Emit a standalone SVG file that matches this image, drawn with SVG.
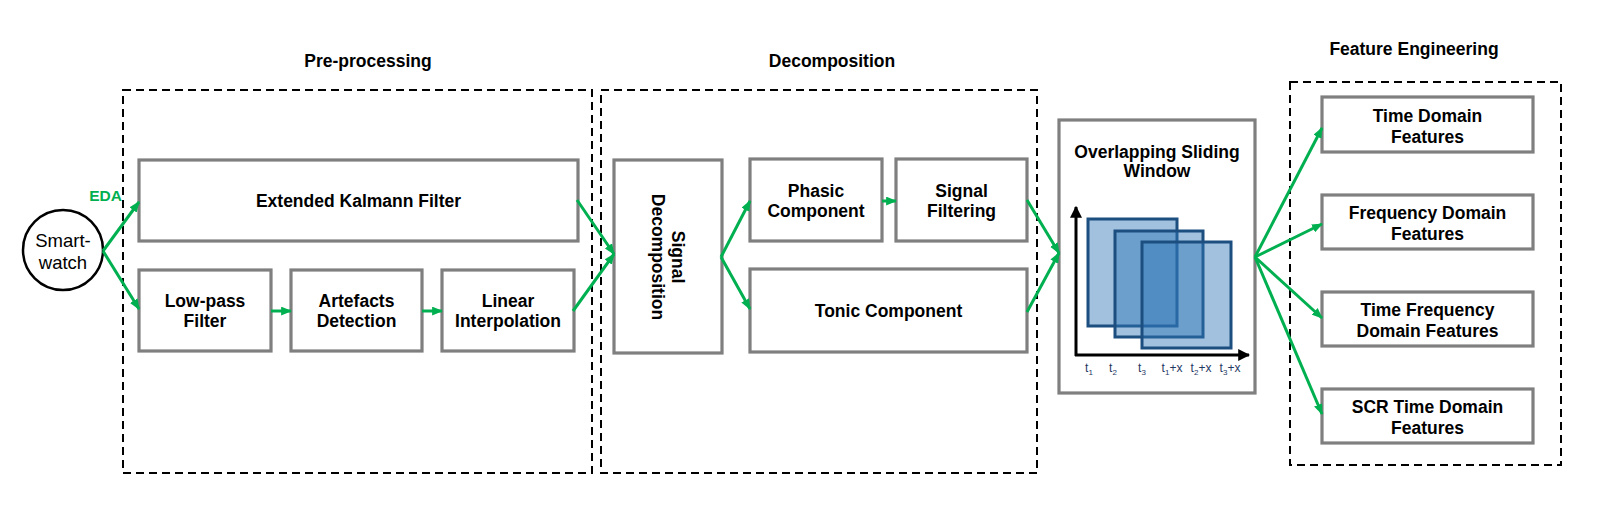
<svg xmlns="http://www.w3.org/2000/svg" width="1623" height="521" viewBox="0 0 1623 521">
<defs>
<style>
.box{fill:#fff;stroke:#7f7f7f;stroke-width:3.2}
.dash{fill:none;stroke:#000;stroke-width:2;stroke-dasharray:8,5}
.t{font-family:"Liberation Sans",Arial,sans-serif;font-weight:bold;font-size:17.5px;fill:#000;text-anchor:middle}
.conn line{stroke:#00b050;stroke-width:3;marker-end:url(#ah)}
.ax{font-family:"Liberation Sans",Arial,sans-serif;font-size:12px;fill:#1f3864;text-anchor:middle}
.sq{fill:#2e75b6;fill-opacity:0.45;stroke:#1c4f80;stroke-width:3}
</style>
<marker id="ah" viewBox="0 0 10 8" refX="9" refY="4" markerWidth="11" markerHeight="9" orient="auto" markerUnits="userSpaceOnUse">
<path d="M0,0 L10,4 L0,8 z" fill="#00b050"/>
</marker>
<marker id="bk" viewBox="0 0 10 10" refX="9" refY="5" markerWidth="12" markerHeight="12" orient="auto" markerUnits="userSpaceOnUse">
<path d="M0,0 L10,5 L0,10 z" fill="#000"/>
</marker>
</defs>
<rect width="1623" height="521" fill="#fff"/>

<g id="stage-titles">
<text class="t" x="368" y="67">Pre-processing</text>
<text class="t" x="832" y="67">Decomposition</text>
<text class="t" x="1414" y="55">Feature Engineering</text>
</g>

<g id="stage-boxes">
<rect class="dash" x="123" y="90" width="469" height="383"/>
<rect class="dash" x="601" y="90" width="436" height="383"/>
<rect class="dash" x="1290" y="82" width="271" height="383"/>
</g>

<g id="smartwatch">
<circle cx="63" cy="250" r="40" fill="#fff" stroke="#000" stroke-width="2.5"/>
<text x="63" y="247" font-family="Liberation Sans, Arial, sans-serif" font-size="18.5" text-anchor="middle">Smart-</text>
<text x="63" y="269" font-family="Liberation Sans, Arial, sans-serif" font-size="18.5" text-anchor="middle">watch</text>
</g>
<text id="eda-label" x="105.5" y="201" font-family="Liberation Sans, Arial, sans-serif" font-weight="bold" font-size="15.5" fill="#00b050" text-anchor="middle">EDA</text>

<g id="ekf">
<rect class="box" x="139" y="160" width="439" height="81"/>
<text class="t" x="358.5" y="207">Extended Kalmann Filter</text>
</g>
<g id="lowpass">
<rect class="box" x="139" y="270" width="132" height="81"/>
<text class="t" x="205" y="307">Low-pass</text>
<text class="t" x="205" y="327">Filter</text>
</g>
<g id="artefacts">
<rect class="box" x="291" y="270" width="131" height="81"/>
<text class="t" x="356.5" y="307">Artefacts</text>
<text class="t" x="356.5" y="327">Detection</text>
</g>
<g id="interp">
<rect class="box" x="442" y="270" width="132" height="81"/>
<text class="t" x="508" y="307">Linear</text>
<text class="t" x="508" y="327">Interpolation</text>
</g>

<g id="signal-decomposition">
<rect class="box" x="614" y="160" width="108" height="193"/>
<g transform="translate(668,257) rotate(90)">
<text class="t" x="0" y="-4">Signal</text>
<text class="t" x="0" y="16">Decomposition</text>
</g>
</g>
<g id="phasic">
<rect class="box" x="750" y="159" width="132" height="82"/>
<text class="t" x="816" y="197">Phasic</text>
<text class="t" x="816" y="217">Component</text>
</g>
<g id="filtering">
<rect class="box" x="896" y="159" width="131" height="82"/>
<text class="t" x="961.5" y="197">Signal</text>
<text class="t" x="961.5" y="217">Filtering</text>
</g>
<g id="tonic">
<rect class="box" x="750" y="269" width="277" height="83"/>
<text class="t" x="888.5" y="317">Tonic Component</text>
</g>

<g id="sliding-window">
<rect class="box" x="1059" y="120" width="196" height="273"/>
<text class="t" x="1157" y="158">Overlapping Sliding</text>
<text class="t" x="1157" y="177">Window</text>
<rect class="sq" x="1088" y="219" width="89" height="107"/>
<rect class="sq" x="1115" y="231" width="88" height="106"/>
<rect class="sq" x="1142" y="242" width="89" height="106"/>
<line x1="1076" y1="356" x2="1076" y2="207" stroke="#000" stroke-width="3" marker-end="url(#bk)"/>
<line x1="1075" y1="355" x2="1249" y2="355" stroke="#000" stroke-width="3" marker-end="url(#bk)"/>
<text class="ax" x="1089" y="372">t<tspan font-size="8" dy="3">1</tspan></text>
<text class="ax" x="1113" y="372">t<tspan font-size="8" dy="3">2</tspan></text>
<text class="ax" x="1142" y="372">t<tspan font-size="8" dy="3">3</tspan></text>
<text class="ax" x="1172" y="372">t<tspan font-size="8" dy="3">1</tspan><tspan dy="-3">+x</tspan></text>
<text class="ax" x="1201" y="372">t<tspan font-size="8" dy="3">2</tspan><tspan dy="-3">+x</tspan></text>
<text class="ax" x="1230" y="372">t<tspan font-size="8" dy="3">3</tspan><tspan dy="-3">+x</tspan></text>
</g>

<g id="feat-time">
<rect class="box" x="1322" y="97" width="211" height="55"/>
<text class="t" x="1427.5" y="121.5">Time Domain</text>
<text class="t" x="1427.5" y="142.5">Features</text>
</g>
<g id="feat-freq">
<rect class="box" x="1322" y="195" width="211" height="54"/>
<text class="t" x="1427.5" y="218.5">Frequency Domain</text>
<text class="t" x="1427.5" y="239.5">Features</text>
</g>
<g id="feat-tf">
<rect class="box" x="1322" y="292" width="211" height="54"/>
<text class="t" x="1427.5" y="315.5">Time Frequency</text>
<text class="t" x="1427.5" y="336.5">Domain Features</text>
</g>
<g id="feat-scr">
<rect class="box" x="1322" y="389" width="211" height="54"/>
<text class="t" x="1427.5" y="412.5">SCR Time Domain</text>
<text class="t" x="1427.5" y="433.5">Features</text>
</g>

<g id="connectors" class="conn">
<line x1="103" y1="251" x2="139" y2="202"/>
<line x1="103" y1="251" x2="139" y2="309"/>
<line x1="271" y1="311" x2="291" y2="311"/>
<line x1="422" y1="311" x2="442" y2="311"/>
<line x1="577" y1="200" x2="614" y2="254"/>
<line x1="573" y1="311" x2="614" y2="254"/>
<line x1="721" y1="257" x2="750" y2="201"/>
<line x1="721" y1="257" x2="750" y2="309"/>
<line x1="882" y1="201" x2="896" y2="201"/>
<line x1="1027" y1="200" x2="1059" y2="253"/>
<line x1="1027" y1="312" x2="1059" y2="253"/>
<line x1="1255" y1="257" x2="1322" y2="128"/>
<line x1="1255" y1="257" x2="1322" y2="224"/>
<line x1="1255" y1="257" x2="1322" y2="318"/>
<line x1="1255" y1="257" x2="1322" y2="414"/>
</g>
</svg>
